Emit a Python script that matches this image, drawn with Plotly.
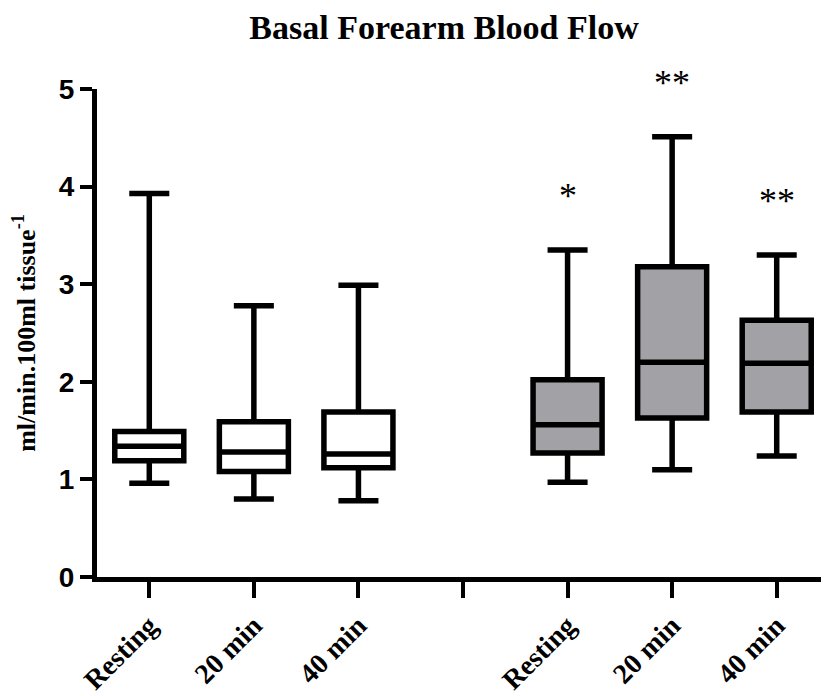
import plotly.graph_objects as go

# ---- data ----
categories = ["Resting", "20 min", "40 min", "Resting", "20 min", "40 min"]
positions = [0, 1, 2, 4, 5, 6]
lower_whisker = [0.96, 0.80, 0.78, 0.97, 1.10, 1.24]
q1_values = [1.19, 1.08, 1.12, 1.27, 1.63, 1.69]
median_values = [1.34, 1.28, 1.26, 1.56, 2.20, 2.19]
q3_values = [1.49, 1.59, 1.69, 2.02, 3.18, 2.63]
upper_whisker = [3.93, 2.78, 2.99, 3.35, 4.51, 3.30]
significance = ["", "", "", "*", "**", "**"]
separator_tick = [3]
y_ticks = [0, 1, 2, 3, 4, 5]
y_range = [0, 5]

fills = ["white", "white", "white", "#a2a1a6", "#a2a1a6", "#a2a1a6"]

fig = go.Figure()
for i in range(len(categories)):
    fig.add_trace(go.Box(
        x=[positions[i]],
        q1=[q1_values[i]], median=[median_values[i]], q3=[q3_values[i]],
        lowerfence=[lower_whisker[i]], upperfence=[upper_whisker[i]],
        width=0.66, whiskerwidth=0.58,
        fillcolor=fills[i],
        line=dict(color="black", width=5.5),
        boxpoints=False, showlegend=False, hoverinfo="skip",
    ))

serif = "Liberation Serif, Times New Roman, serif"
for i in range(len(categories)):
    if significance[i]:
        yv = upper_whisker[i] + 0.55
        fig.add_annotation(
            x=positions[i], y=(yv - y_range[0]) / (y_range[1] - y_range[0]),
            text=significance[i],
            showarrow=False, xref="x", yref="paper", yanchor="middle",
            font=dict(family=serif, size=36, color="black"),
        )

fig.update_layout(
    width=829, height=696,
    margin=dict(l=89, r=8, t=81, b=127),
    plot_bgcolor="white", paper_bgcolor="white",
    title=dict(text="Basal Forearm Blood Flow", x=0.526, xanchor="center",
               xref="container", y=0.973, yref="container", yanchor="middle",
               font=dict(family=serif, size=34, color="black", weight="bold")),
    xaxis=dict(range=[-0.5, 6.5], tickmode="array", tickvals=positions,
               ticktext=categories, tickangle=-45,
               showline=True, linecolor="black", linewidth=5,
               ticks="outside", ticklen=16, tickwidth=4, tickcolor="black",
               minor=dict(tickmode="array", tickvals=separator_tick, ticks="outside",
                          ticklen=16, tickwidth=4, tickcolor="black", showgrid=False),
               showgrid=False, zeroline=False,
               tickfont=dict(family=serif, size=28, color="black", weight="bold")),
    yaxis=dict(range=y_range, tickvals=y_ticks,
               showline=True, linecolor="black", linewidth=5,
               ticks="outside", ticklen=12, tickwidth=4, tickcolor="black",
               showgrid=False, zeroline=False,
               tickfont=dict(family="Liberation Sans, Arial, sans-serif", size=28,
                             color="black", weight="bold"),
               title=dict(text="ml/min.100ml tissue<sup>-1</sup>", standoff=18,
                          font=dict(family=serif, size=26, color="black", weight="bold"))),
)

fig.write_html("out.html")
